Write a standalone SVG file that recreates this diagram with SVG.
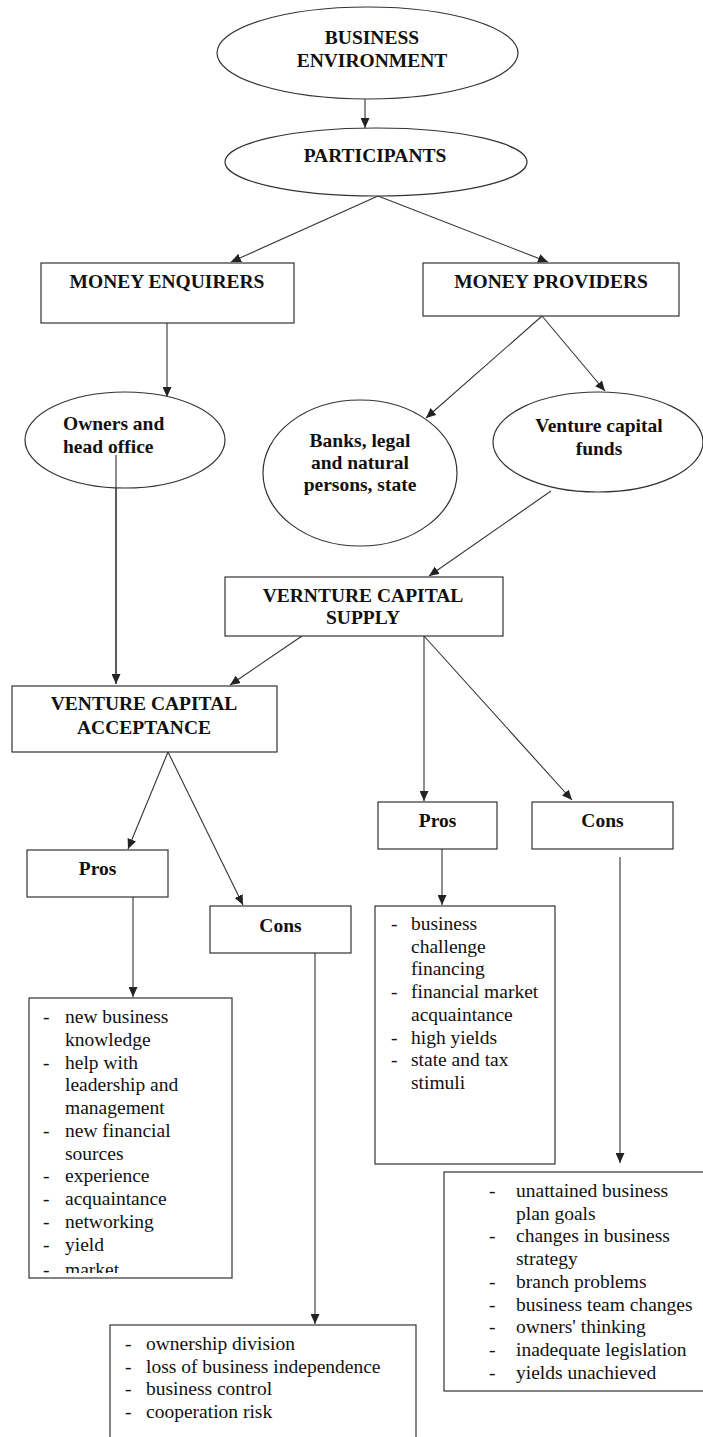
<svg xmlns="http://www.w3.org/2000/svg" width="703" height="1437" viewBox="0 0 703 1437">
<style>
  .shape { fill: #ffffff; stroke: #333333; stroke-width: 1.2; }
  .edge { fill: none; stroke: #333333; stroke-width: 1.1; marker-end: url(#arrow); }
  .plain { fill: none; stroke: #333333; stroke-width: 1.1; }
  .t { font-family: "Liberation Serif", "Times New Roman", serif; font-size: 19.5px; fill: #111111; }
  .b { font-weight: bold; text-anchor: middle; }
</style>
<defs>
  <marker id="arrow" markerUnits="userSpaceOnUse" markerWidth="10" markerHeight="9" refX="10" refY="4.5" orient="auto">
    <path d="M0,0 L10,4.5 L0,9 z" fill="#222222"/>
  </marker>
  <clipPath id="clipProsL"><rect x="29" y="998" width="203" height="275"/></clipPath>
</defs>
<rect width="703" height="1437" fill="#ffffff"/>

<g id="connectors">
  <line class="edge" x1="365" y1="99" x2="365" y2="128"/>
  <line class="edge" x1="378" y1="196" x2="231" y2="262"/>
  <line class="edge" x1="378" y1="196" x2="548" y2="262"/>
  <line class="edge" x1="167" y1="323" x2="167" y2="397"/>
  <line class="edge" x1="542" y1="316" x2="426" y2="418"/>
  <line class="edge" x1="542" y1="316" x2="605" y2="391"/>
  <line class="edge" x1="116" y1="455" x2="116" y2="684"/>
  <line class="edge" x1="551" y1="491" x2="429" y2="576"/>
  <line class="edge" x1="302" y1="636" x2="230" y2="685"/>
  <line class="edge" x1="424" y1="636" x2="424" y2="801"/>
  <line class="edge" x1="424" y1="636" x2="572" y2="800"/>
  <line class="edge" x1="168" y1="752" x2="128" y2="849"/>
  <line class="edge" x1="168" y1="752" x2="243" y2="905"/>
  <line class="edge" x1="133" y1="897" x2="133" y2="997"/>
  <line class="edge" x1="315" y1="953" x2="315" y2="1324"/>
  <line class="edge" x1="442" y1="849" x2="442" y2="905"/>
  <line class="edge" x1="620" y1="857" x2="620" y2="1163"/>
</g>

<g id="business-environment">
  <ellipse class="shape" cx="367.5" cy="53" rx="150.5" ry="46"/>
  <text class="t b" x="372" y="44">BUSINESS</text>
  <text class="t b" x="372" y="67">ENVIRONMENT</text>
</g>

<g id="participants">
  <ellipse class="shape" cx="376" cy="162" rx="151" ry="34"/>
  <text class="t b" x="375" y="162">PARTICIPANTS</text>
</g>

<g id="money-enquirers">
  <rect class="shape" x="41" y="263" width="253" height="60"/>
  <text class="t b" x="167" y="288">MONEY ENQUIRERS</text>
</g>

<g id="money-providers">
  <rect class="shape" x="423" y="263" width="256" height="53"/>
  <text class="t b" x="551" y="288">MONEY PROVIDERS</text>
</g>

<g id="owners">
  <ellipse class="shape" cx="125" cy="440" rx="100" ry="48"/>
  <text class="t" font-weight="bold" x="63" y="430">Owners and</text>
  <text class="t" font-weight="bold" x="63" y="453">head office</text>
</g>

<g id="banks">
  <ellipse class="shape" cx="360" cy="473" rx="97" ry="73"/>
  <text class="t b" x="360" y="447">Banks, legal</text>
  <text class="t b" x="360" y="469">and natural</text>
  <text class="t b" x="360" y="491">persons, state</text>
</g>

<g id="venture-capital-funds">
  <ellipse class="shape" cx="598" cy="442" rx="105" ry="50"/>
  <text class="t b" x="599" y="432">Venture capital</text>
  <text class="t b" x="599" y="455">funds</text>
</g>

<line class="plain" x1="116" y1="455" x2="116" y2="684"/>

<g id="venture-capital-supply">
  <rect class="shape" x="225" y="577" width="278" height="59"/>
  <text class="t b" x="363" y="602">VERNTURE CAPITAL</text>
  <text class="t b" x="363" y="624">SUPPLY</text>
</g>

<g id="venture-capital-acceptance">
  <rect class="shape" x="12" y="686" width="265" height="66"/>
  <text class="t b" x="144" y="710">VENTURE CAPITAL</text>
  <text class="t b" x="144" y="734">ACCEPTANCE</text>
</g>

<g id="pros-left">
  <rect class="shape" x="27" y="850" width="141" height="47"/>
  <text class="t b" x="97.5" y="875">Pros</text>
</g>

<g id="cons-left">
  <rect class="shape" x="210" y="906" width="141" height="47"/>
  <text class="t b" x="280.5" y="932">Cons</text>
</g>

<g id="pros-right">
  <rect class="shape" x="378" y="802" width="119" height="47"/>
  <text class="t b" x="437.5" y="827">Pros</text>
</g>

<g id="cons-right">
  <rect class="shape" x="532" y="802" width="141" height="47"/>
  <text class="t b" x="602.5" y="827">Cons</text>
</g>

<g id="pros-left-list">
  <rect class="shape" x="29" y="998" width="203" height="280"/>
  <g clip-path="url(#clipProsL)">
    <text class="t" x="43" y="1023">-</text><text class="t" x="65" y="1023">new business</text>
    <text class="t" x="65" y="1045.75">knowledge</text>
    <text class="t" x="43" y="1068.5">-</text><text class="t" x="65" y="1068.5">help with</text>
    <text class="t" x="65" y="1091.25">leadership and</text>
    <text class="t" x="65" y="1114">management</text>
    <text class="t" x="43" y="1136.75">-</text><text class="t" x="65" y="1136.75">new financial</text>
    <text class="t" x="65" y="1159.5">sources</text>
    <text class="t" x="43" y="1182.25">-</text><text class="t" x="65" y="1182.25">experience</text>
    <text class="t" x="43" y="1205">-</text><text class="t" x="65" y="1205">acquaintance</text>
    <text class="t" x="43" y="1227.75">-</text><text class="t" x="65" y="1227.75">networking</text>
    <text class="t" x="43" y="1250.5">-</text><text class="t" x="65" y="1250.5">yield</text>
    <text class="t" x="43" y="1276">-</text><text class="t" x="65" y="1276">market</text>
  </g>
</g>

<g id="pros-right-list">
  <rect class="shape" x="375" y="906" width="180" height="258"/>
  <text class="t" x="391" y="930">-</text><text class="t" x="411" y="930">business</text>
  <text class="t" x="411" y="952.7">challenge</text>
  <text class="t" x="411" y="975.4">financing</text>
  <text class="t" x="391" y="998.1">-</text><text class="t" x="411" y="998.1">financial market</text>
  <text class="t" x="411" y="1020.8">acquaintance</text>
  <text class="t" x="391" y="1043.5">-</text><text class="t" x="411" y="1043.5">high yields</text>
  <text class="t" x="391" y="1066.2">-</text><text class="t" x="411" y="1066.2">state and tax</text>
  <text class="t" x="411" y="1088.9">stimuli</text>
</g>

<g id="cons-left-list">
  <rect class="shape" x="110" y="1325" width="306" height="130"/>
  <text class="t" x="125" y="1350">-</text><text class="t" x="146" y="1350">ownership division</text>
  <text class="t" x="125" y="1372.7">-</text><text class="t" x="146" y="1372.7">loss of business independence</text>
  <text class="t" x="125" y="1395.4">-</text><text class="t" x="146" y="1395.4">business control</text>
  <text class="t" x="125" y="1418.1">-</text><text class="t" x="146" y="1418.1">cooperation risk</text>
</g>

<g id="cons-right-list">
  <rect class="shape" x="444" y="1172" width="265" height="219"/>
  <text class="t" x="489" y="1197">-</text><text class="t" x="516" y="1197">unattained business</text>
  <text class="t" x="516" y="1219.7">plan goals</text>
  <text class="t" x="489" y="1242.4">-</text><text class="t" x="516" y="1242.4">changes in business</text>
  <text class="t" x="516" y="1265.1">strategy</text>
  <text class="t" x="489" y="1287.8">-</text><text class="t" x="516" y="1287.8">branch problems</text>
  <text class="t" x="489" y="1310.5">-</text><text class="t" x="516" y="1310.5">business team changes</text>
  <text class="t" x="489" y="1333.2">-</text><text class="t" x="516" y="1333.2">owners' thinking</text>
  <text class="t" x="489" y="1355.9">-</text><text class="t" x="516" y="1355.9">inadequate legislation</text>
  <text class="t" x="489" y="1378.6">-</text><text class="t" x="516" y="1378.6">yields unachieved</text>
</g>
</svg>
